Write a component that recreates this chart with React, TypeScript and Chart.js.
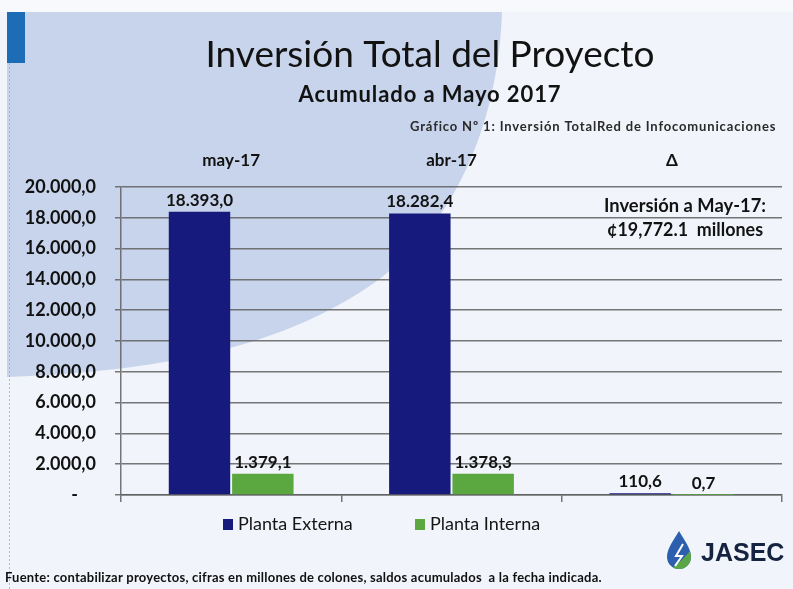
import React, { useEffect, useRef } from 'react';
import { Chart, registerables } from 'chart.js';

Chart.register(...registerables);

// ---------- data ----------
const categories = ['may-17', 'abr-17', 'Δ'];
const seriesNames = ['Planta Externa', 'Planta Interna'];
const plantaExterna = [18393.0, 18282.4, 110.6];
const plantaInterna = [1379.1, 1378.3, 0.7];
const yMin = 0;
const yMax = 20000;
const yStep = 2000;

const titleText = 'Inversión Total del Proyecto';
const subtitleText = 'Acumulado a Mayo 2017';
const graficoText = 'Gráfico Nº 1: Inversión TotalRed de Infocomunicaciones';
const noteLines = ['Inversión a May-17:', '¢19,772.1  millones'];
const footerText = 'Fuente: contabilizar proyectos, cifras en millones de colones, saldos acumulados  a la fecha indicada.';
const logoText = 'JASEC';

const BLUE = '#161a7c';
const GREEN = '#5aa83f';
const GRID = 'rgba(95,95,95,0.85)';
const FONT = 'Lato, "Open Sans", sans-serif';

function fmt(v: number): string {
  const fixed = Math.abs(v).toFixed(1);
  const [i, d] = fixed.split('.');
  const intF = i.replace(/\B(?=(\d{3})+(?!\d))/g, '.');
  return (v < 0 ? '-' : '') + intF + ',' + d;
}

function spaced(ctx: any, text: string, x: number, y: number, spacing: string, maxW?: number) {
  const prev = ctx.letterSpacing;
  ctx.letterSpacing = spacing;
  if (maxW) ctx.fillText(text, x, y, maxW);
  else ctx.fillText(text, x, y);
  ctx.letterSpacing = prev || '0px';
}

const backgroundPlugin = {
  id: 'bgWave',
  beforeDraw(chart: any) {
    const ctx = chart.ctx as CanvasRenderingContext2D;
    const W = chart.width, H = chart.height;
    ctx.save();
    ctx.fillStyle = '#f1f4fa';
    ctx.fillRect(0, 0, W, H);
    ctx.fillStyle = '#f7f9fc';
    ctx.fillRect(0, 0, W, 12);
    // light blue wave
    ctx.fillStyle = '#c7d4eb';
    ctx.beginPath();
    ctx.moveTo(7, 12);
    ctx.lineTo(502, 12);
    ctx.bezierCurveTo(498, 120, 458, 222, 374, 283);
    ctx.bezierCurveTo(300, 334, 200, 370, 7, 377);
    ctx.closePath();
    ctx.fill();
    // blue accent
    ctx.fillStyle = '#1c6db5';
    ctx.fillRect(7, 12, 18, 51);
    // faint left border
    ctx.strokeStyle = 'rgba(150,150,160,0.6)';
    ctx.setLineDash([2, 2]);
    ctx.beginPath();
    ctx.moveTo(9.5, 63);
    ctx.lineTo(9.5, H);
    ctx.stroke();
    ctx.restore();
  },
};

const overlayPlugin = {
  id: 'overlay',
  afterDraw(chart: any) {
    const ctx = chart.ctx as any;
    const xs = chart.scales.x;
    ctx.save();
    ctx.fillStyle = '#121212';
    ctx.textBaseline = 'alphabetic';

    // title + subtitle
    ctx.textAlign = 'center';
    ctx.font = `37px ${FONT}`;
    ctx.fillText(titleText, 430, 67, 456);
    ctx.font = `bold 22px ${FONT}`;
    spaced(ctx, subtitleText, 430, 102, '0.9px', 266);

    // grafico caption
    ctx.textAlign = 'left';
    ctx.fillStyle = '#2a2a2a';
    ctx.font = `bold 13px ${FONT}`;
    spaced(ctx, graficoText, 410, 131, '0.85px', 368);

    // category labels at top
    ctx.fillStyle = '#121212';
    ctx.textAlign = 'center';
    ctx.font = `bold 17px ${FONT}`;
    categories.forEach((c, i) => {
      ctx.fillText(c, xs.getPixelForValue(i), 166);
    });

    // value labels
    ctx.font = `bold 17px ${FONT}`;
    chart.data.datasets.forEach((ds: any, di: number) => {
      const meta = chart.getDatasetMeta(di);
      meta.data.forEach((bar: any, i: number) => {
        ctx.fillText(fmt(ds.data[i]), bar.x, bar.y - 6);
      });
    });

    // note
    ctx.font = `bold 19px ${FONT}`;
    ctx.fillText(noteLines[0], 685, 212, 162);
    ctx.fillText(noteLines[1], 685, 236, 156);

    // legend
    ctx.textAlign = 'left';
    ctx.textBaseline = 'middle';
    ctx.font = `18px ${FONT}`;
    const legendX = [223, 415];
    chart.data.datasets.forEach((ds: any, di: number) => {
      const lx = legendX[di];
      ctx.fillStyle = ds.backgroundColor;
      ctx.fillRect(lx, 519, 10, 11);
      ctx.fillStyle = '#151515';
      ctx.fillText(ds.label, lx + 15, 524);
    });

    // footer
    ctx.textBaseline = 'alphabetic';
    ctx.font = `bold 13px ${FONT}`;
    ctx.fillStyle = '#101010';
    spaced(ctx, footerText, 5, 582, '0.22px', 598);

    // logo drop
    ctx.save();
    ctx.beginPath();
    ctx.moveTo(679, 531);
    ctx.bezierCurveTo(684, 540, 691, 548, 691, 557);
    ctx.arc(679, 557, 12, 0, Math.PI, false);
    ctx.bezierCurveTo(667, 548, 674, 540, 679, 531);
    ctx.closePath();
    ctx.clip();
    ctx.fillStyle = '#2c5fae';
    ctx.fillRect(660, 525, 40, 50);
    ctx.fillStyle = '#5aa646';
    ctx.beginPath();
    ctx.moveTo(700, 538);
    ctx.lineTo(700, 575);
    ctx.lineTo(662, 575);
    ctx.quadraticCurveTo(684, 562, 700, 538);
    ctx.fill();
    ctx.restore();
    ctx.strokeStyle = '#ffffff';
    ctx.lineWidth = 2;
    ctx.beginPath();
    ctx.moveTo(683, 544);
    ctx.lineTo(676, 556);
    ctx.lineTo(682, 556);
    ctx.lineTo(675, 566);
    ctx.stroke();

    ctx.fillStyle = '#14233f';
    ctx.font = 'bold 25px "Liberation Sans", Arial, sans-serif';
    ctx.fillText(logoText, 701, 561, 88);
    ctx.restore();
  },
};

export default function App() {
  const ref = useRef<HTMLCanvasElement | null>(null);

  useEffect(() => {
    if (!ref.current) return;
    const chart = new Chart(ref.current, {
      type: 'bar',
      data: {
        labels: categories,
        datasets: [
          {
            label: seriesNames[0],
            data: plantaExterna,
            backgroundColor: BLUE,
            categoryPercentage: 0.575,
            barPercentage: 0.97,
          },
          {
            label: seriesNames[1],
            data: plantaInterna,
            backgroundColor: GREEN,
            categoryPercentage: 0.575,
            barPercentage: 0.97,
          },
        ],
      },
      options: {
        responsive: false,
        animation: false,
        devicePixelRatio: 1,
        layout: { padding: { top: 187, right: 11, bottom: 84, left: 0 } },
        plugins: {
          legend: { display: false },
          title: { display: false },
          tooltip: { enabled: false },
        },
        scales: {
          x: {
            type: 'category',
            position: 'bottom',
            grid: {
              display: true,
              drawOnChartArea: false,
              drawTicks: true,
              tickLength: 7,
              color: GRID,
              lineWidth: 1.5,
            },
            border: { display: true, color: GRID, width: 1.5 },
            ticks: { display: false },
            afterFit: (s: any) => {
              s.height = 10;
            },
          },
          y: {
            min: yMin,
            max: yMax,
            ticks: {
              stepSize: yStep,
              padding: 19,
              color: '#111111',
              font: { family: FONT, size: 18, weight: 'bold' },
              callback: (v: any) => (Number(v) === 0 ? '-\u2002\u2002' : fmt(Number(v))),
            },
            grid: { color: GRID, lineWidth: 1.5, tickLength: 6 },
            border: { display: true, color: GRID, width: 1.5 },
            afterFit: (s: any) => {
              s.width = 121;
            },
          },
        },
      },
      plugins: [backgroundPlugin, overlayPlugin],
    } as any);
    return () => chart.destroy();
  }, []);

  return (
    <div style={{ position: 'fixed', left: 0, top: 0, width: 793, height: 589 }}>
      <canvas ref={ref} width={793} height={589} style={{ display: 'block', width: 793, height: 589 }} />
    </div>
  );
}
